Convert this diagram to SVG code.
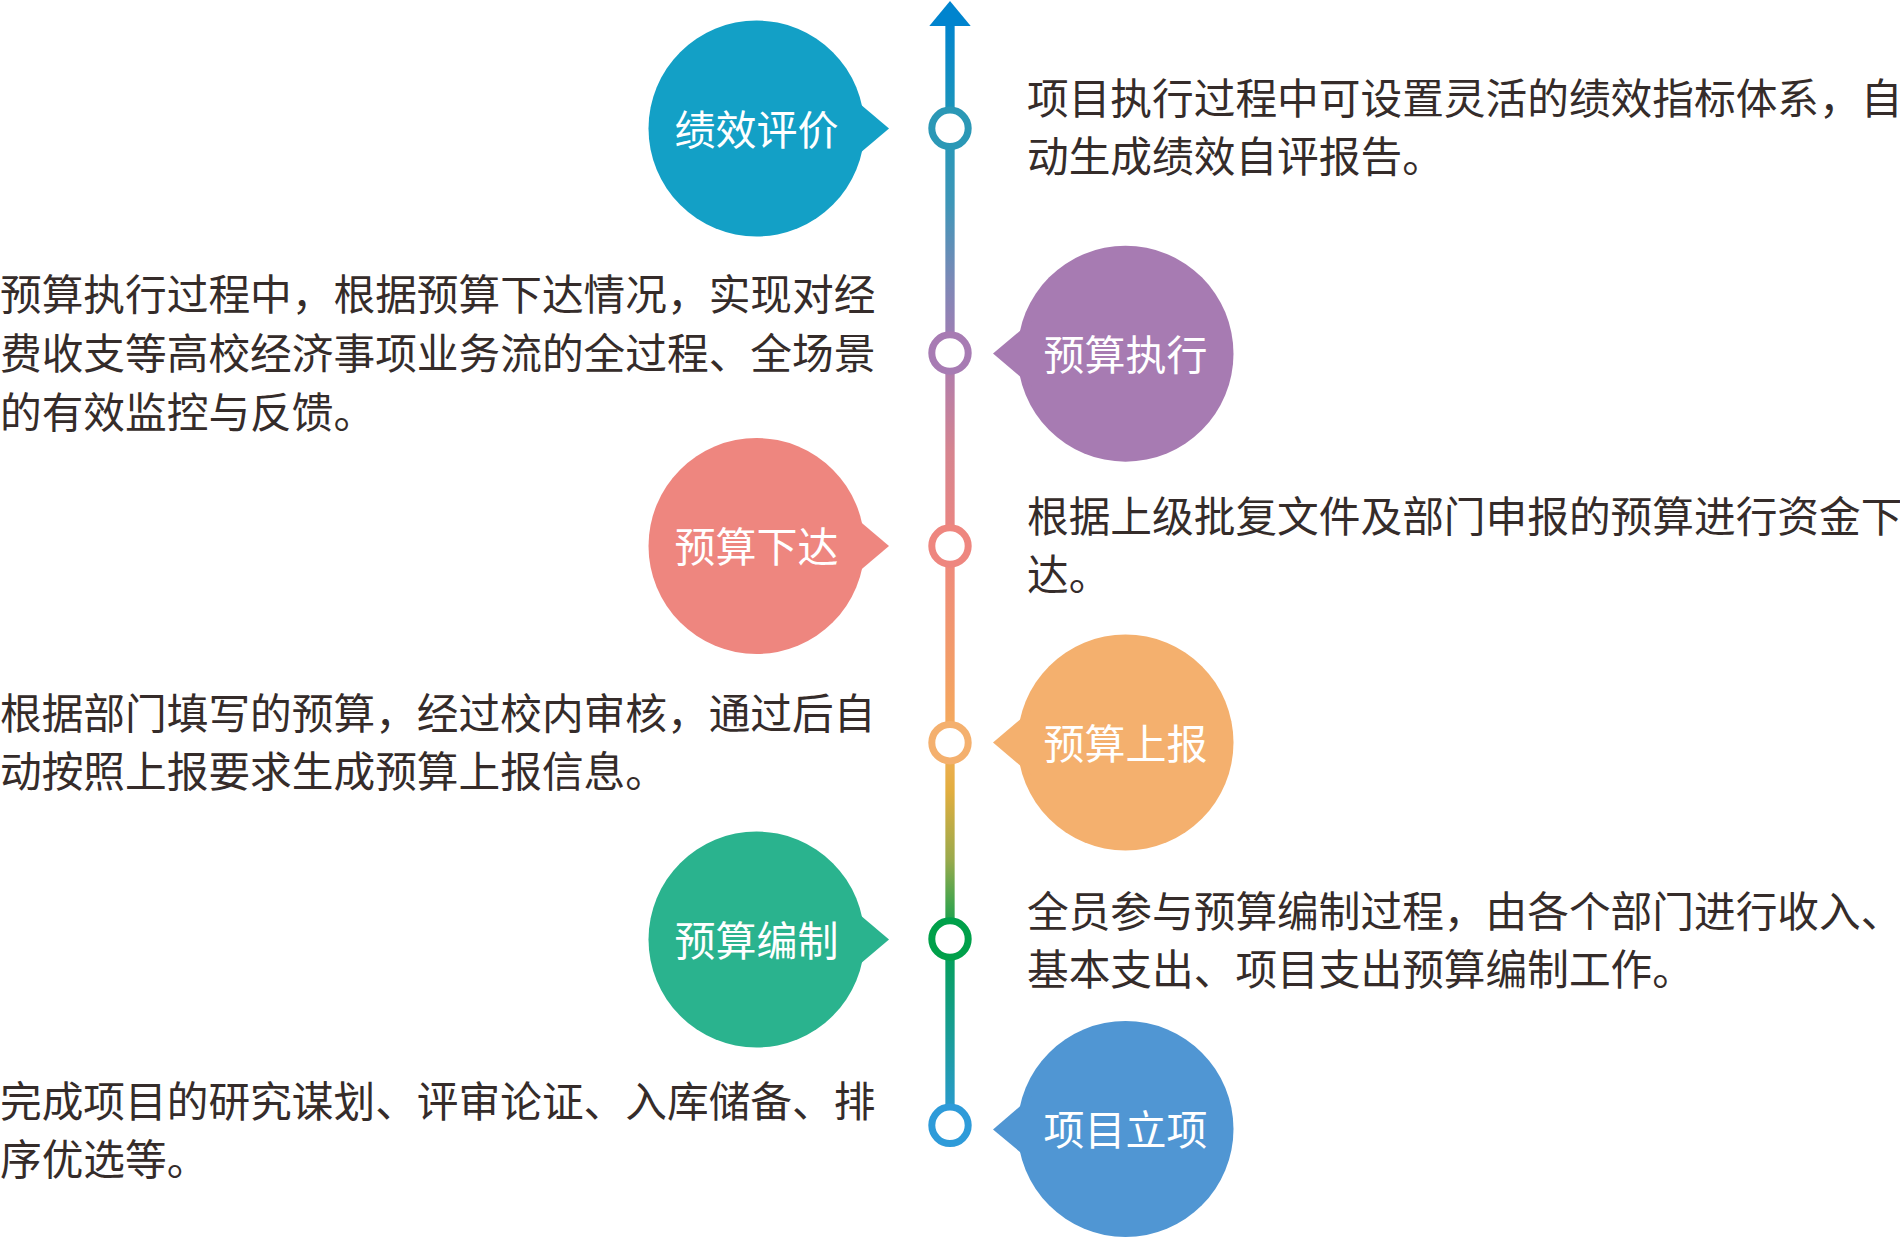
<svg xmlns="http://www.w3.org/2000/svg" width="1900" height="1239" viewBox="0 0 1900 1239">
<style>
.t{font-family:"Noto Sans CJK SC","Noto Sans",sans-serif;font-size:41.7px;fill:#352C2A}
.lbl{font-family:"Noto Sans CJK SC","Noto Sans",sans-serif;font-size:41px;fill:#FFFFFF;text-anchor:middle}
.dot{fill:#FFFFFF;stroke-width:7}
</style>
<defs>
<linearGradient id="lineGrad" gradientUnits="userSpaceOnUse" x1="0" y1="0" x2="0" y2="1130">
<stop offset="0.02" stop-color="#0084CE"/>
<stop offset="0.11" stop-color="#2198B8"/>
<stop offset="0.18" stop-color="#3E96B8"/>
<stop offset="0.25" stop-color="#7C88B6"/>
<stop offset="0.31" stop-color="#A77BB3"/>
<stop offset="0.40" stop-color="#D6848F"/>
<stop offset="0.483" stop-color="#EE867F"/>
<stop offset="0.62" stop-color="#F4A461"/>
<stop offset="0.657" stop-color="#F4AE5C"/>
<stop offset="0.70" stop-color="#E2AE3F"/>
<stop offset="0.76" stop-color="#9BAA4C"/>
<stop offset="0.83" stop-color="#00A04E"/>
<stop offset="0.995" stop-color="#2E9AD9"/>
</linearGradient>
</defs>
<rect width="1900" height="1239" fill="#FFFFFF"/>

<g id="connectors">
<rect x="945.35" y="22" width="9.3" height="1103" fill="url(#lineGrad)"/>
<polygon points="950,1 929.3,26 970.7,26" fill="#0084CE"/>
<circle class="dot" cx="950" cy="128.3" r="18.2" stroke="#2B98B6"/>
<circle class="dot" cx="950" cy="353" r="18.2" stroke="#A77BB3"/>
<circle class="dot" cx="950" cy="546" r="18.2" stroke="#EE867F"/>
<circle class="dot" cx="950" cy="742.7" r="18.2" stroke="#F4B06E"/>
<circle class="dot" cx="950" cy="939" r="18.2" stroke="#00A04A"/>
<circle class="dot" cx="950" cy="1125.3" r="18.2" stroke="#2E9BD9"/>
</g>

<g id="node-jixiaopingjia">
<circle cx="756.5" cy="128.5" r="108" fill="#13A0C6"/>
<polygon points="850,95.5 889,128.5 850,161.5" fill="#13A0C6"/>
<text class="lbl" x="756.5" y="144.5">绩效评价</text>
<text class="t" x="1027" y="114">项目执行过程中可设置灵活的绩效指标体系，自</text>
<text class="t" x="1027" y="172">动生成绩效自评报告。</text>
</g>

<g id="node-yusuanzhixing">
<circle cx="1125.5" cy="353.7" r="108" fill="#A77BB2"/>
<polygon points="1032,320.7 993,353.5 1032,386.7" fill="#A77BB2"/>
<text class="lbl" x="1125.5" y="370">预算执行</text>
<text class="t" x="0" y="310">预算执行过程中，根据预算下达情况，实现对经</text>
<text class="t" x="0" y="369">费收支等高校经济事项业务流的全过程、全场景</text>
<text class="t" x="0" y="428">的有效监控与反馈。</text>
</g>

<g id="node-yusuanxiada">
<circle cx="756.5" cy="546" r="108" fill="#EE867F"/>
<polygon points="850,513 889,546 850,579" fill="#EE867F"/>
<text class="lbl" x="756.5" y="562">预算下达</text>
<text class="t" x="1027" y="532">根据上级批复文件及部门申报的预算进行资金下</text>
<text class="t" x="1027" y="590">达。</text>
</g>

<g id="node-yusuanshangbao">
<circle cx="1125.5" cy="742.5" r="108" fill="#F4B06E"/>
<polygon points="1032,709.5 993,742.5 1032,775.5" fill="#F4B06E"/>
<text class="lbl" x="1125.5" y="759">预算上报</text>
<text class="t" x="0" y="729">根据部门填写的预算，经过校内审核，通过后自</text>
<text class="t" x="0" y="787">动按照上报要求生成预算上报信息。</text>
</g>

<g id="node-yusuanbianzhi">
<circle cx="756.5" cy="939.5" r="108" fill="#2AB38E"/>
<polygon points="850,906.5 889,939.5 850,972.5" fill="#2AB38E"/>
<text class="lbl" x="756.5" y="955.5">预算编制</text>
<text class="t" x="1027" y="927">全员参与预算编制过程，由各个部门进行收入、</text>
<text class="t" x="1027" y="985">基本支出、项目支出预算编制工作。</text>
</g>

<g id="node-xiangmulixiang">
<circle cx="1125.5" cy="1129" r="108" fill="#5096D3"/>
<polygon points="1032,1096 993,1129.5 1032,1162" fill="#5096D3"/>
<text class="lbl" x="1125.5" y="1145">项目立项</text>
<text class="t" x="0" y="1117">完成项目的研究谋划、评审论证、入库储备、排</text>
<text class="t" x="0" y="1175">序优选等。</text>
</g>
</svg>
